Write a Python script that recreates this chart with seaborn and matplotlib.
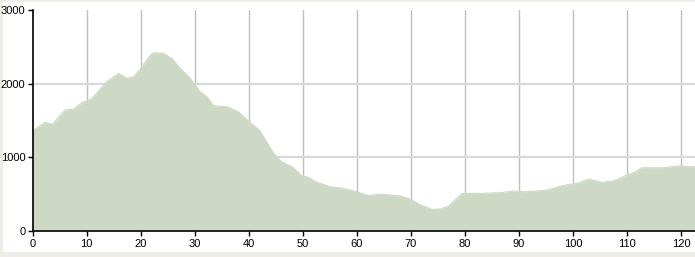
import matplotlib
matplotlib.use("Agg")
import matplotlib.pyplot as plt
import seaborn as sns
import pandas as pd
from matplotlib.patches import Rectangle

distance_km = [0.0, 0.2, 2.3, 3.7, 6.0, 7.6, 9.1, 11.0, 13.7, 15.9, 17.4, 18.7, 19.9,
               21.8, 22.4, 24.2, 25.8, 27.3, 29.2, 31.0, 32.3, 33.5, 36.0, 38.1, 40.0,
               42.1, 44.6, 46.1, 48.0, 49.9, 51.1, 52.6, 55.1, 57.6, 60.0, 62.2, 64.4,
               68.1, 70.0, 71.8, 73.9, 75.5, 77.0, 78.2, 79.5, 82.9, 86.6, 89.0, 91.5,
               95.2, 98.3, 100.8, 101.7, 102.9, 105.4, 107.6, 110.0, 111.3, 112.8,
               116.8, 119.9, 121.1, 122.6]
elevation_m = [1360, 1370, 1475, 1452, 1642, 1655, 1741, 1800, 2026, 2140, 2072, 2094, 2195,
               2388, 2420, 2411, 2343, 2208, 2072, 1890, 1822, 1700, 1687, 1619, 1490,
               1360, 1054, 940, 873, 746, 729, 661, 601, 579, 533, 479, 502,
               475, 430, 353, 294, 298, 339, 421, 511, 511, 520, 543, 533,
               556, 620, 647, 669, 705, 661, 683, 760, 796, 859,
               859, 886, 873, 873]

x_ticks = list(range(0, 121, 10))
y_ticks = [0, 1000, 2000, 3000]

df = pd.DataFrame({"distance": distance_km, "elevation": elevation_m})

sns.set_theme(style="white")
plt.rcParams['font.family'] = ['Liberation Sans', 'DejaVu Sans']

fig = plt.figure(figsize=(6.95, 2.57), dpi=100, facecolor="#efede7")
W, H = 695, 257
fig.patches.append(Rectangle((3 / W, 1 - 252 / H), (W - 3) / W, 250 / H,
                             transform=fig.transFigure, facecolor="white",
                             edgecolor="none", zorder=-10))

ax = fig.add_axes([32.5 / W, 1 - 231 / H, 1 - 32.5 / W, (231 - 10) / H])
ax.set_facecolor("none")
ax.set_zorder(5)

fill_color = "#cdd9c5"
ax.fill_between(df["distance"], df["elevation"], 0, color=fill_color, lw=0, zorder=3)
sns.lineplot(data=df, x="distance", y="elevation", ax=ax, color=fill_color, lw=0.8, zorder=3)

ax.set_xlim(0, 122.6)
ax.set_ylim(0, 3000)
ax.set_xticks(x_ticks)
ax.set_yticks(y_ticks)
ax.set_xticklabels([str(t) for t in x_ticks])
ax.set_yticklabels([str(t) for t in y_ticks])
ax.set_xlabel("")
ax.set_ylabel("")

for t in x_ticks[1:]:
    ax.axvline(t, color="#c0c0c0", lw=1, zorder=1)
for t in [1000, 2000]:
    ax.axhline(t, color="#d9d9d9", lw=1.6, zorder=1)

for s in ["top", "right"]:
    ax.spines[s].set_visible(False)
for s in ["left", "bottom"]:
    ax.spines[s].set_color("black")
    ax.spines[s].set_linewidth(1.2)
    ax.spines[s].set_zorder(4)

ax.tick_params(axis="both", which="major", direction="out", length=3.5, width=1,
               color="black", labelsize=8, labelcolor="black", pad=1.5)
ax.tick_params(axis="x", pad=2.5, bottom=True)
ax.tick_params(axis="y", left=True)

fig.savefig("out.png", dpi=100, facecolor=fig.get_facecolor())
